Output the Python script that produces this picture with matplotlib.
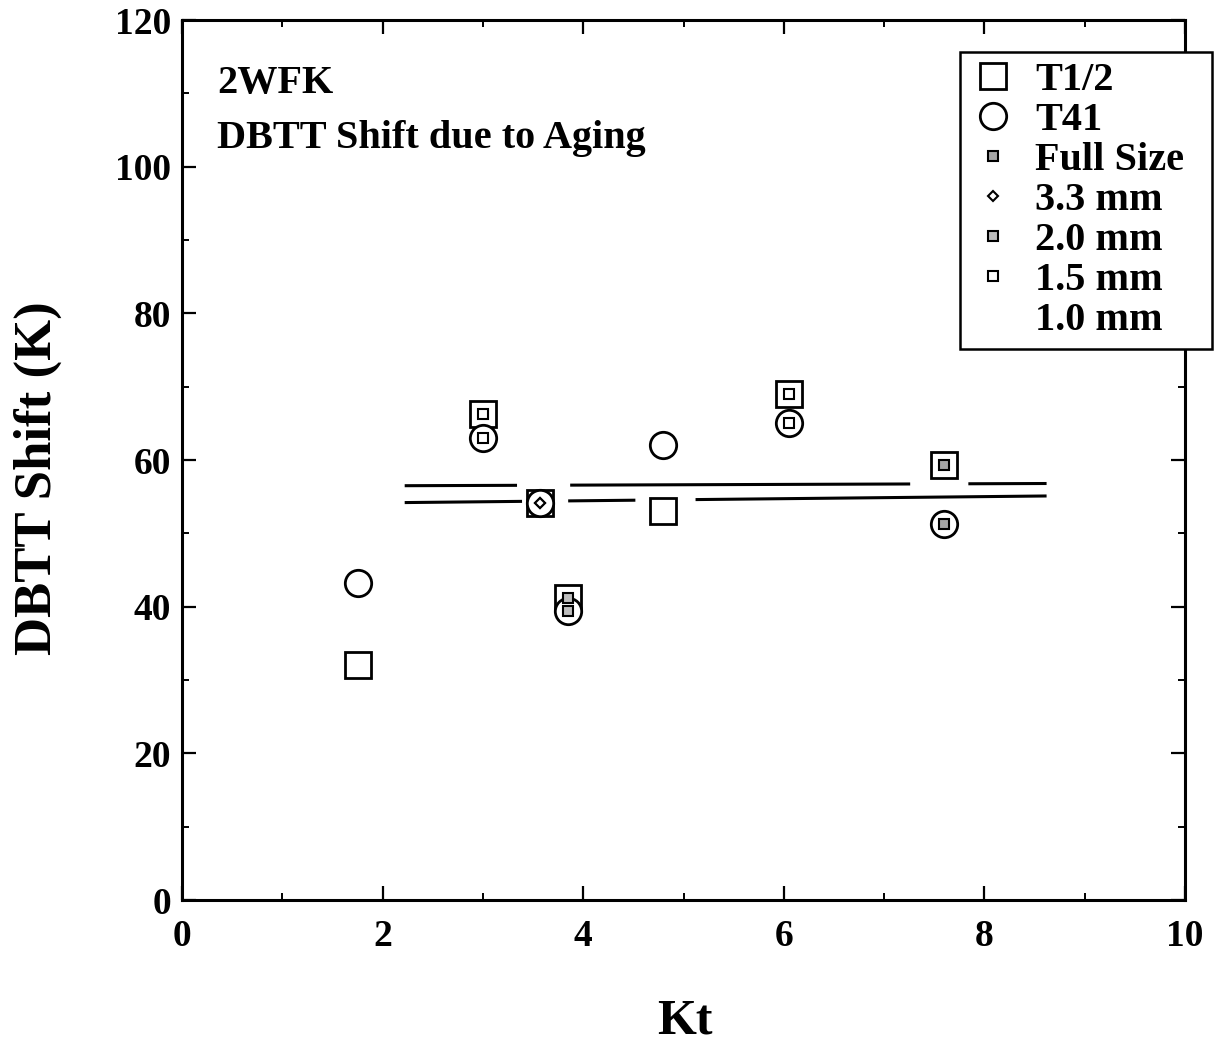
import numpy as np
import matplotlib
matplotlib.use('Agg')
import matplotlib.pyplot as plt
from matplotlib.lines import Line2D
from matplotlib.ticker import MultipleLocator

plt.rcParams['font.family'] = ['Liberation Serif', 'DejaVu Serif']
plt.rcParams['font.weight'] = 'bold'

# data
kt = [1.75, 3.0, 3.57, 3.85, 4.8, 6.05, 7.6]
t_half = [32.0, 66.3, 54.1, 41.2, 53.0, 69.0, 59.3]
t41 = [43.2, 63.0, 54.1, 39.4, 62.0, 65.0, 51.3]
spec_size = ['1.0 mm', '1.5 mm', '3.3 mm', '2.0 mm', '1.0 mm', '1.5 mm', 'Full Size']

# the two horizontal fit lines: end points and the gaps left in them
upper_x = [2.22, 8.62]
upper_y = [56.5, 56.8]
upper_gaps = [(3.34, 3.87), (7.26, 7.84)]
lower_x = [2.22, 8.62]
lower_y = [54.2, 55.1]
lower_gaps = [(3.39, 3.85), (4.52, 5.12)]

size_order = ['Full Size', '3.3 mm', '2.0 mm', '1.5 mm', '1.0 mm']
size_style = {
    'Full Size': dict(marker='s', mfc='#a6a6a6', ms=7.5),
    '3.3 mm': dict(marker='D', mfc='white', ms=5.5),
    '2.0 mm': dict(marker='s', mfc='#bdbdbd', ms=7.5),
    '1.5 mm': dict(marker='s', mfc='white', ms=7.5),
    '1.0 mm': dict(marker='None', mfc='white', ms=7.5),
}


def draw_fit(ax, xs, ys, gaps):
    edges = [xs[0]] + [g for gap in gaps for g in gap] + [xs[1]]
    for x0, x1 in zip(edges[::2], edges[1::2]):
        ax.plot([x0, x1], np.interp([x0, x1], xs, ys), color='black',
                lw=2.2, solid_capstyle='butt', zorder=2)


fig = plt.figure(figsize=(12.16, 10.44), dpi=100)
ax = fig.add_axes([0.1497, 0.1379, 0.8248, 0.8429])

draw_fit(ax, upper_x, upper_y, upper_gaps)
draw_fit(ax, lower_x, lower_y, lower_gaps)

ax.plot(kt, t_half, ls='none', marker='s', ms=19, mfc='white', mec='black',
        mew=2.0, zorder=3)
ax.plot(kt, t41, ls='none', marker='o', ms=19, mfc='white', mec='black',
        mew=2.0, zorder=4)
for x, a, b, s in zip(kt, t_half, t41, spec_size):
    st = size_style[s]
    ax.plot([x, x], [a, b], ls='none', mec='black', mew=1.5, zorder=5, **st)

ax.set_xlim(0, 10)
ax.set_ylim(0, 120)
ax.xaxis.set_major_locator(MultipleLocator(2))
ax.xaxis.set_minor_locator(MultipleLocator(1))
ax.yaxis.set_major_locator(MultipleLocator(20))
ax.yaxis.set_minor_locator(MultipleLocator(10))
ax.tick_params(which='both', direction='in', top=True, right=True)
ax.tick_params(which='major', length=10, width=1.6, labelsize=27)
ax.tick_params(which='minor', length=5, width=1.4)
ax.tick_params(axis='x', pad=14)
ax.tick_params(axis='y', pad=8)
for sp in ax.spines.values():
    sp.set_linewidth(2.2)

ax.set_xlabel('Kt', fontsize=36, fontweight='bold')
ax.set_ylabel('DBTT Shift (K)', fontsize=38, fontweight='bold')
ax.xaxis.set_label_coords(0.5015, -0.112)
ax.yaxis.set_label_coords(-0.12, 0.48)

ax.text(0.35, 110.1, '2WFK', fontsize=29, fontweight='bold', va='baseline')
ax.text(0.35, 102.5, 'DBTT Shift due to Aging', fontsize=29, fontweight='bold',
        va='baseline')

handles = [
    Line2D([], [], ls='none', marker='s', ms=19, mfc='white', mec='black', mew=2.0),
    Line2D([], [], ls='none', marker='o', ms=19, mfc='white', mec='black', mew=2.0),
]
labels = ['T1/2', 'T41']
for s in size_order:
    handles.append(Line2D([], [], ls='none', mec='black', mew=1.5, **size_style[s]))
    labels.append(s)
leg = ax.legend(handles, labels, loc='upper left', mode='expand',
                bbox_to_anchor=(960 / 1216, 1 - 353 / 1044, 252 / 1216, 301 / 1044),
                bbox_transform=fig.transFigure, fontsize=29, frameon=True,
                fancybox=False, edgecolor='black', framealpha=1,
                handlelength=1.14, handletextpad=0.47, labelspacing=0.07,
                borderpad=0.25, borderaxespad=0)
leg.get_frame().set_linewidth(1.8)

fig.savefig('out.png', dpi=100)
